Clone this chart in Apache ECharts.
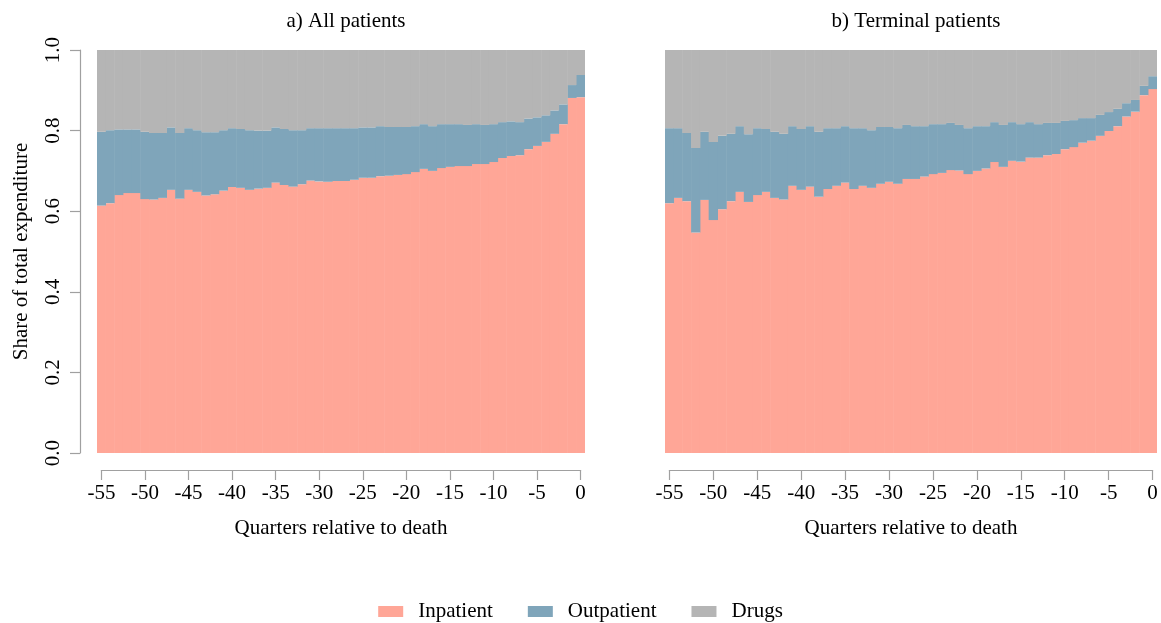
<!DOCTYPE html>
<html>
<head>
<meta charset="utf-8">
<title>Share of total expenditure</title>
<script src="https://cdn.jsdelivr.net/npm/echarts@6/dist/echarts.min.js"></script>
<style>
  html, body { margin: 0; padding: 0; background: #fff; }
  #chart { width: 1161px; height: 623px; }
</style>
</head>
<body>
<div id="chart"></div>
<script>
// quarters relative to death
var quarters = [-55, -54, -53, -52, -51, -50, -49, -48, -47, -46, -45, -44, -43, -42,
  -41, -40, -39, -38, -37, -36, -35, -34, -33, -32, -31, -30, -29, -28,
  -27, -26, -25, -24, -23, -22, -21, -20, -19, -18, -17, -16, -15, -14,
  -13, -12, -11, -10, -9, -8, -7, -6, -5, -4, -3, -2, -1, 0]
var xTicks = [-55, -50, -45, -40, -35, -30, -25, -20, -15, -10, -5, 0]
var yTicks = [0, 0.2, 0.4, 0.6, 0.8, 1.0]

// a) All patients
var inpatientAll = [0.614, 0.620, 0.640, 0.645, 0.645, 0.630, 0.629, 0.633, 0.653, 0.631, 0.653, 0.648, 0.639, 0.642,
  0.651, 0.660, 0.658, 0.653, 0.656, 0.658, 0.671, 0.665, 0.661, 0.667, 0.676, 0.674, 0.673, 0.675,
  0.675, 0.678, 0.683, 0.683, 0.687, 0.688, 0.690, 0.692, 0.697, 0.705, 0.700, 0.707, 0.710, 0.712,
  0.712, 0.717, 0.717, 0.722, 0.732, 0.737, 0.739, 0.754, 0.762, 0.772, 0.792, 0.816, 0.881, 0.883]
var outpatientAll = [0.183, 0.181, 0.163, 0.158, 0.158, 0.167, 0.165, 0.161, 0.155, 0.163, 0.153, 0.153, 0.157, 0.154,
  0.150, 0.146, 0.146, 0.148, 0.144, 0.142, 0.137, 0.139, 0.140, 0.134, 0.130, 0.132, 0.133, 0.131,
  0.131, 0.128, 0.125, 0.125, 0.124, 0.121, 0.119, 0.117, 0.114, 0.111, 0.111, 0.109, 0.106, 0.104,
  0.102, 0.099, 0.097, 0.094, 0.089, 0.086, 0.082, 0.076, 0.071, 0.066, 0.058, 0.049, 0.032, 0.055]
var drugsAll = [0.203, 0.199, 0.197, 0.197, 0.197, 0.203, 0.206, 0.206, 0.192, 0.206, 0.194, 0.199, 0.204, 0.204,
  0.199, 0.194, 0.196, 0.199, 0.200, 0.200, 0.192, 0.196, 0.199, 0.199, 0.194, 0.194, 0.194, 0.194,
  0.194, 0.194, 0.192, 0.192, 0.189, 0.191, 0.191, 0.191, 0.189, 0.184, 0.189, 0.184, 0.184, 0.184,
  0.186, 0.184, 0.186, 0.184, 0.179, 0.177, 0.179, 0.170, 0.167, 0.162, 0.150, 0.135, 0.087, 0.062]

// b) Terminal patients
var inpatientTerm = [0.620, 0.633, 0.625, 0.547, 0.628, 0.578, 0.605, 0.625, 0.648, 0.623, 0.640, 0.648, 0.633, 0.629,
  0.663, 0.653, 0.661, 0.636, 0.655, 0.663, 0.671, 0.655, 0.663, 0.658, 0.668, 0.673, 0.668, 0.680,
  0.680, 0.686, 0.692, 0.695, 0.702, 0.701, 0.692, 0.700, 0.706, 0.722, 0.710, 0.725, 0.723, 0.733,
  0.733, 0.739, 0.742, 0.754, 0.759, 0.770, 0.775, 0.787, 0.799, 0.811, 0.835, 0.847, 0.888, 0.903]
var outpatientTerm = [0.186, 0.173, 0.169, 0.210, 0.169, 0.194, 0.182, 0.167, 0.163, 0.168, 0.166, 0.156, 0.164, 0.163,
  0.148, 0.151, 0.150, 0.161, 0.151, 0.143, 0.140, 0.151, 0.143, 0.143, 0.141, 0.136, 0.138, 0.134,
  0.131, 0.125, 0.124, 0.121, 0.117, 0.113, 0.114, 0.111, 0.105, 0.099, 0.104, 0.096, 0.093, 0.088,
  0.083, 0.080, 0.077, 0.070, 0.067, 0.061, 0.056, 0.052, 0.047, 0.043, 0.033, 0.029, 0.023, 0.032]
var drugsTerm = [0.194, 0.194, 0.206, 0.243, 0.203, 0.228, 0.213, 0.208, 0.189, 0.209, 0.194, 0.196, 0.203, 0.208,
  0.189, 0.196, 0.189, 0.203, 0.194, 0.194, 0.189, 0.194, 0.194, 0.199, 0.191, 0.191, 0.194, 0.186,
  0.189, 0.189, 0.184, 0.184, 0.181, 0.186, 0.194, 0.189, 0.189, 0.179, 0.186, 0.179, 0.184, 0.179,
  0.184, 0.181, 0.181, 0.176, 0.174, 0.169, 0.169, 0.161, 0.154, 0.146, 0.132, 0.124, 0.089, 0.065]

var FONT = '"Liberation Serif", "DejaVu Serif", serif'
var FONT_SIZE = 21
var AXIS_GREY = '#a0a0a0'
var colors = { Inpatient: '#ffa697', Outpatient: '#7fa5ba', Drugs: '#b5b5b5' }

var chart = echarts.init(document.getElementById('chart'))

function barSeries(name, data, idx, stack) {
  return {
    name: name,
    type: 'bar',
    stack: stack,
    xAxisIndex: idx,
    yAxisIndex: idx,
    data: data,
    // a touch wider than the band so neighbouring bars overlap and no seams show
    barWidth: '106%',
    itemStyle: { color: colors[name], borderWidth: 0 },
    emphasis: { disabled: true }
  }
}

// axis that only shows ticks, drawn below the bars like base R
function tickAxis(gridIndex) {
  return {
    type: 'value',
    gridIndex: gridIndex,
    min: xTicks[0],
    max: xTicks[xTicks.length - 1],
    interval: 5,
    axisLine: { show: true, lineStyle: { color: AXIS_GREY, width: 1.2 } },
    axisTick: { show: true, length: 10, lineStyle: { color: AXIS_GREY, width: 1.2 } },
    axisLabel: { color: '#000', fontFamily: FONT, fontSize: FONT_SIZE, margin: 13 },
    splitLine: { show: false },
    name: 'Quarters relative to death',
    nameLocation: 'middle',
    nameGap: 48,
    nameTextStyle: { color: '#000', fontFamily: FONT, fontSize: FONT_SIZE }
  }
}

var hiddenCat = function (gridIndex) {
  return { type: 'category', gridIndex: gridIndex, data: quarters, show: false }
}

chart.setOption({
  animation: false,
  backgroundColor: '#fff',
  title: [
    { text: 'a) All patients', left: 341, top: 6, textAlign: 'center',
      textStyle: { fontFamily: FONT, fontSize: FONT_SIZE, fontWeight: 'normal', color: '#000' } },
    { text: 'b) Terminal patients', left: 911, top: 6, textAlign: 'center',
      textStyle: { fontFamily: FONT, fontSize: FONT_SIZE, fontWeight: 'normal', color: '#000' } }
  ],
  legend: {
    top: 596,
    left: 'center',
    data: ['Inpatient', 'Outpatient', 'Drugs'],
    itemWidth: 25,
    itemHeight: 11,
    itemGap: 35,
    icon: 'rect',
    textStyle: { fontFamily: FONT, fontSize: FONT_SIZE, color: '#000', padding: [0, 0, 0, 10] }
  },
  grid: [
    { left: 97, top: 50, width: 488, height: 403 },
    { left: 665, top: 50, width: 492, height: 403 },
    { left: 101.4, top: 450, width: 479.2, height: 20 },
    { left: 669.4, top: 450, width: 483.2, height: 20 }
  ],
  xAxis: [hiddenCat(0), hiddenCat(1), tickAxis(2), tickAxis(3)],
  yAxis: [
    {
      type: 'value', gridIndex: 0, min: yTicks[0], max: yTicks[yTicks.length - 1], interval: 0.2,
      offset: 17,
      axisLine: { show: true, lineStyle: { color: AXIS_GREY, width: 1.2 } },
      axisTick: { show: true, length: 10, lineStyle: { color: AXIS_GREY, width: 1.2 } },
      axisLabel: { color: '#000', fontFamily: FONT, fontSize: FONT_SIZE, rotate: 90, margin: 16,
        formatter: function (v) { return v.toFixed(1) } },
      splitLine: { show: false },
      name: 'Share of total expenditure',
      nameLocation: 'middle',
      nameGap: 48,
      nameTextStyle: { color: '#000', fontFamily: FONT, fontSize: FONT_SIZE }
    },
    { type: 'value', gridIndex: 1, min: 0, max: 1, show: false, splitLine: { show: false } },
    { type: 'value', gridIndex: 2, show: false, splitLine: { show: false } },
    { type: 'value', gridIndex: 3, show: false, splitLine: { show: false } }
  ],
  series: [
    barSeries('Inpatient', inpatientAll, 0, 'all'),
    barSeries('Outpatient', outpatientAll, 0, 'all'),
    barSeries('Drugs', drugsAll, 0, 'all'),
    barSeries('Inpatient', inpatientTerm, 1, 'term'),
    barSeries('Outpatient', outpatientTerm, 1, 'term'),
    barSeries('Drugs', drugsTerm, 1, 'term')
  ]
})
</script>
</body>
</html>
